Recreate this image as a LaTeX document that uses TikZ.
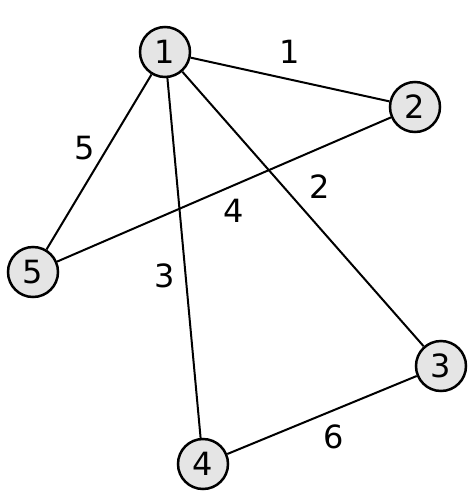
\documentclass[tikz,border=0pt]{standalone}
\usepackage{fontspec}
\setmainfont{DejaVu Sans}
\begin{document}
\begin{tikzpicture}[x=1pt,y=-1pt,
  v/.style={circle,draw,line width=2.5pt,fill=black!10,minimum size=50pt,inner sep=0pt,font=\fontsize{32}{32}\selectfont},
  e/.style={line width=2pt},
  lb/.style={font=\fontsize{32}{32}\selectfont}]
\fill[white] (0,0) rectangle (474,504);
\useasboundingbox (0,0) rectangle (474,504);
\node[v] (n1) at (165,52) {1};
\node[v] (n2) at (415,107) {2};
\node[v] (n5) at (33,272) {5};
\node[v] (n3) at (441,366) {3};
\node[v] (n4) at (203,464) {4};
\draw[e] (n1) -- (n2);
\draw[e] (n1) -- (n5);
\draw[e] (n1) -- (n4);
\draw[e] (n1) -- (n3);
\draw[e] (n2) -- (n5);
\draw[e] (n3) -- (n4);
\node[lb] (l1) at (290,52) {1};
\node[lb] (l5) at (85,148) {5};
\node[lb] (l2) at (320,187) {2};
\node[lb] (l4) at (234,211) {4};
\node[lb] (l3) at (165,276) {3};
\node[lb] (l6) at (334,437) {6};
\end{tikzpicture}
\end{document}
